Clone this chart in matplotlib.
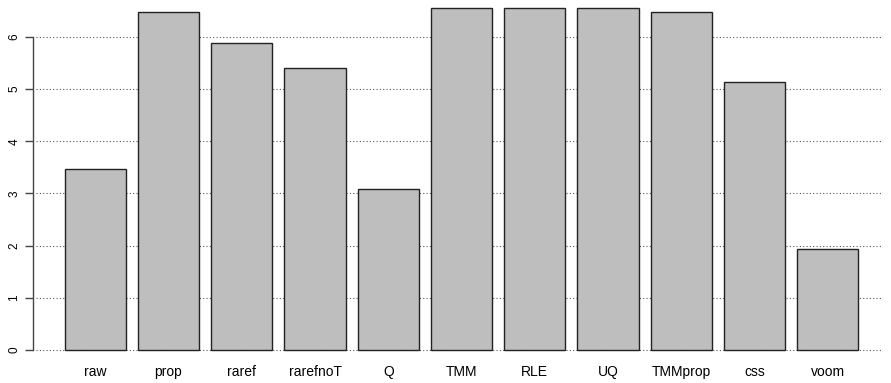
import numpy as np
import matplotlib
matplotlib.use('Agg')
import matplotlib.pyplot as plt

# normalisation methods and their scores
methods = ['raw', 'prop', 'raref', 'rarefnoT', 'Q', 'TMM', 'RLE', 'UQ', 'TMMprop', 'css', 'voom']
scores = [3.46, 6.48, 5.88, 5.40, 3.09, 6.55, 6.55, 6.55, 6.48, 5.13, 1.93]
y_ticks = [0, 1, 2, 3, 4, 5, 6]

plt.rcParams['font.family'] = ['Liberation Sans', 'DejaVu Sans']

W, H = 891, 383
fig = plt.figure(figsize=(W / 100, H / 100), dpi=100)

# axes placed in pixel terms (R barplot layout)
px_per_unit = 52.2
y0_px = 350
ylo = -0.262
yhi = y0_px / px_per_unit
ax_bottom = (H - (y0_px - ylo * px_per_unit)) / H
ax = fig.add_axes([33 / W, ax_bottom, (890 - 33) / W, 1 - ax_bottom])

# R style bar positions: width 1, space 0.2
x = 0.2 + 1.2 * np.arange(len(methods)) + 0.5
ax.set_xlim(-0.32, 13.72)
ax.set_ylim(ylo, yhi)

for t in y_ticks:
    ax.axhline(t, xmin=0.003, xmax=0.99, color='#555555', linestyle=(0, (1, 2)), linewidth=0.8, zorder=1)

ax.bar(x, scores, width=1.0, color='#BEBEBE', edgecolor='#222222', linewidth=1.0, zorder=2)

for s in ['top', 'right', 'bottom']:
    ax.spines[s].set_visible(False)
ax.spines['left'].set_bounds(0, 6)
ax.spines['left'].set_color('#444444')
ax.spines['left'].set_linewidth(1.0)

ax.set_yticks(y_ticks)
ax.set_yticklabels([str(t) for t in y_ticks], rotation=90, va='center', fontsize=8.5)
ax.tick_params(axis='y', length=6, width=1.0, color='#444444', pad=3)

ax.set_xticks(x)
ax.set_xticklabels(methods, fontsize=10)
ax.tick_params(axis='x', length=0, pad=1)

fig.savefig('out.png', dpi=100)
